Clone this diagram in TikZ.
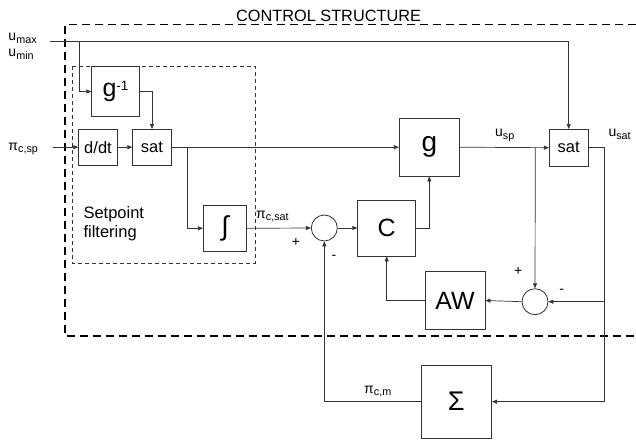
\documentclass[tikz,border=0pt]{standalone}
\usepackage{fontspec}
\setmainfont{Liberation Sans}
\usetikzlibrary{arrows.meta}
\newcommand{\sbs}[2]{#1\raisebox{-2.6pt}{\fontsize{10.8}{11}\selectfont #2}}
\begin{document}
\begin{tikzpicture}[x=1pt,y=-1pt,
  blk/.style={draw=black!80, line width=0.8pt, inner sep=0pt, fill=white},
  mid/.style={font=\fontsize{16.5}{18}\selectfont},
  big/.style={font=\fontsize{25}{27}\selectfont},
  lab/.style={font=\fontsize{14}{16}\selectfont, inner sep=0pt},
  sumc/.style={draw=black!80, line width=0.8pt, circle, minimum size=26pt, inner sep=0pt},
  ln/.style={draw=black!80, line width=0.7pt},
  arr/.style={ln, -{Triangle[length=5pt,width=4pt]}}
]
\useasboundingbox (0,0) rectangle (636,439);

% frames
\draw[line width=1.6pt, dash pattern=on 8pt off 5pt] (636,24.5) -- (65,24.5) -- (65,336) -- (636,336);
\draw[black!80, line width=0.8pt, dash pattern=on 4pt off 3pt] (72.7,66) rectangle (255,263.3);
\node[anchor=base west, inner sep=0pt, font=\fontsize{16.3}{18}\selectfont] (title) at (236,21) {CONTROL STRUCTURE};

% blocks
\node[blk, minimum width=47.6pt, minimum height=49.6pt, big] (gi) at (115.5,91.5) {g\raisebox{5.5pt}{\fontsize{13.5}{14}\selectfont -1}};
\node[blk, minimum width=38.6pt, minimum height=35.7pt, mid] (ddt) at (98,147.2) {d/dt};
\node[blk, minimum width=38.6pt, minimum height=35.7pt, mid] (sat1) at (152,147.2) {sat};
\node[blk, minimum width=43.4pt, minimum height=45.3pt, font=\fontsize{27}{29}\selectfont] (intg) at (225,228.3) {∫};
\node[sumc] (sum1) at (324.3,228) {};
\node[blk, minimum width=58pt, minimum height=56pt, big] (C) at (386.7,228) {C};
\node[blk, minimum width=60pt, minimum height=57.7pt, font=\fontsize{28}{30}\selectfont] (g) at (429.3,147.2) {g};
\node[blk, minimum width=38.7pt, minimum height=36.7pt, mid] (sat2) at (568.7,147.7) {sat};
\node[sumc] (sum2) at (535,301.7) {};
\node[blk, minimum width=60pt, minimum height=57.6pt, big] (AW) at (455,300.5) {AW};
\node[blk, minimum width=70.7pt, minimum height=73.3pt, font=\fontsize{27}{29}\selectfont] (Sig) at (456.3,401.7) {Σ};

% inputs
\coordinate (uin) at (50,41.7);
\coordinate (ubr) at (79.3,41.7);
\coordinate (pin) at (52.7,147.2);
\coordinate (sbr) at (187.7,147.2);
\coordinate (gbr) at (535.3,147.7);
\coordinate (rc) at (604,147.7);
\coordinate (rb) at (604,401.7);
\coordinate (rm) at (604,301.7);

% connectors
\draw[arr] (uin) -| (sat2.north);
\draw[arr] (ubr) |- (gi.west);
\draw[arr] (gi.east) -| (sat1.north);
\draw[arr] (pin) -- (ddt.west);
\draw[arr] (ddt.east) -- (sat1.west);
\draw[arr] (sat1.east) -- (g.west);
\draw[arr] (sbr) |- (intg.west);
\draw[arr] (intg.east) -- (sum1.west);
\draw[arr] (sum1.east) -- (C.west);
\draw[arr] (C.east) -| (g.south);
\draw[arr] (g.east) -- (sat2.west);
\draw[arr] (gbr) -- (sum2.north);
\draw[arr] (sat2.east) -- (rc) -- (rb) -- (Sig.east);
\draw[arr] (rm) -- (sum2.east);
\draw[arr] (sum2.west) -- (AW.east);
\draw[arr] (AW.west) -| (C.south);
\draw[arr] (Sig.west) -| (sum1.south);

% labels
\node[lab, anchor=base west] (lumax) at (8.3,40.5) {\sbs{u}{max}};
\node[lab, anchor=base west] (lumin) at (8.3,56.5) {\sbs{u}{min}};
\node[lab, anchor=base west] (lpisp) at (8.3,150) {\sbs{π}{c,sp}};
\node[lab, anchor=base west] (lpisat) at (256,218) {\sbs{π}{c,sat}};
\node[lab, anchor=base west] (lpim) at (364,393) {\sbs{π}{c,m}};
\node[lab, anchor=base west] (lusp) at (495,136.7) {\sbs{u}{sp}};
\node[lab, anchor=base west] (lusat) at (608.3,136.7) {\sbs{u}{sat}};
\node[lab] (p1) at (296,242) {+};
\node[lab] (m1) at (334,257) {-};
\node[lab] (p2) at (518.3,271) {+};
\node[lab] (m2) at (561.7,291) {-};
\node[anchor=base west, inner sep=0pt, align=left, font=\fontsize{16.5}{19}\selectfont] (sf) at (83.3,237.3) {Setpoint\\filtering};
\end{tikzpicture}
\end{document}
